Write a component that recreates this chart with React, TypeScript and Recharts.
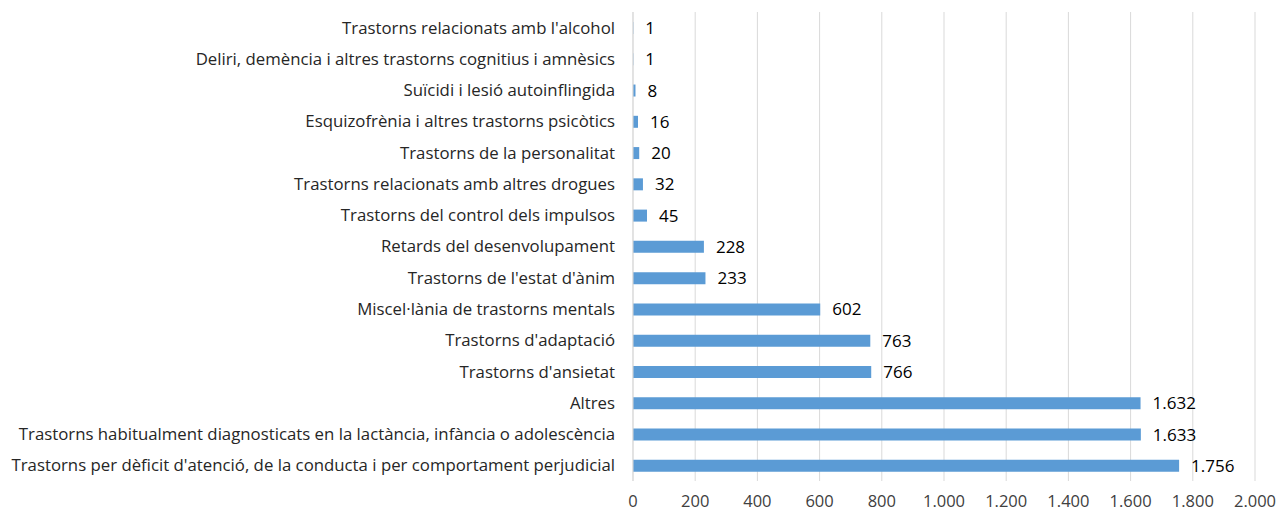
import React from 'react'
import { BarChart, Bar, XAxis, YAxis, CartesianGrid, LabelList } from 'recharts'

// categories top to bottom, as in the picture
const categories = [
  "Trastorns relacionats amb l'alcohol",
  'Deliri, demència i altres trastorns cognitius i amnèsics',
  'Suïcidi i lesió autoinflingida',
  'Esquizofrènia i altres trastorns psicòtics',
  'Trastorns de la personalitat',
  'Trastorns relacionats amb altres drogues',
  'Trastorns del control dels impulsos',
  'Retards del desenvolupament',
  "Trastorns de l'estat d'ànim",
  'Miscel·lània de trastorns mentals',
  "Trastorns d'adaptació",
  "Trastorns d'ansietat",
  'Altres',
  'Trastorns habitualment diagnosticats en la lactància, infància o adolescència',
  "Trastorns per dèficit d'atenció, de la conducta i per comportament perjudicial",
]

const values = [1, 1, 8, 16, 20, 32, 45, 228, 233, 602, 763, 766, 1632, 1633, 1756]

const xTicks = [0, 200, 400, 600, 800, 1000, 1200, 1400, 1600, 1800, 2000]

const data = categories.map((name, i) => ({ name, value: values[i] }))

const fmt = (v: number) => v.toLocaleString('de-DE')

const font = "'Open Sans', 'Liberation Sans', sans-serif"

export default function App() {
  return (
    <div style={{ position: 'absolute', left: 0, top: 0, background: '#fff' }}>
      <BarChart
        width={1278}
        height={514}
        data={data}
        layout="vertical"
        margin={{ top: 12, right: 23, bottom: 3, left: 0 }}
        barCategoryGap={0}
      >
        <CartesianGrid horizontal={false} stroke="#D9D9D9" />
        <XAxis
          type="number"
          domain={[0, 2000]}
          ticks={xTicks}
          tickFormatter={fmt}
          axisLine={false}
          tickLine={false}
          tickMargin={8}
          height={30}
          tick={{ fill: '#404040', fontSize: 16.5, fontFamily: font }}
        />
        <YAxis
          type="category"
          dataKey="name"
          width={633}
          axisLine={{ stroke: '#D9D9D9' }}
          tickLine={false}
          tickMargin={12}
          interval={0}
          tick={{ fill: '#262626', fontSize: 16.8, fontFamily: font }}
        />
        <Bar dataKey="value" fill="#5B9BD5" barSize={12} isAnimationActive={false}>
          <LabelList
            dataKey="value"
            position="right"
            offset={12}
            formatter={(v: any) => fmt(Number(v))}
            style={{ fill: '#000', fontSize: 17, fontFamily: font }}
          />
        </Bar>
      </BarChart>
    </div>
  )
}
